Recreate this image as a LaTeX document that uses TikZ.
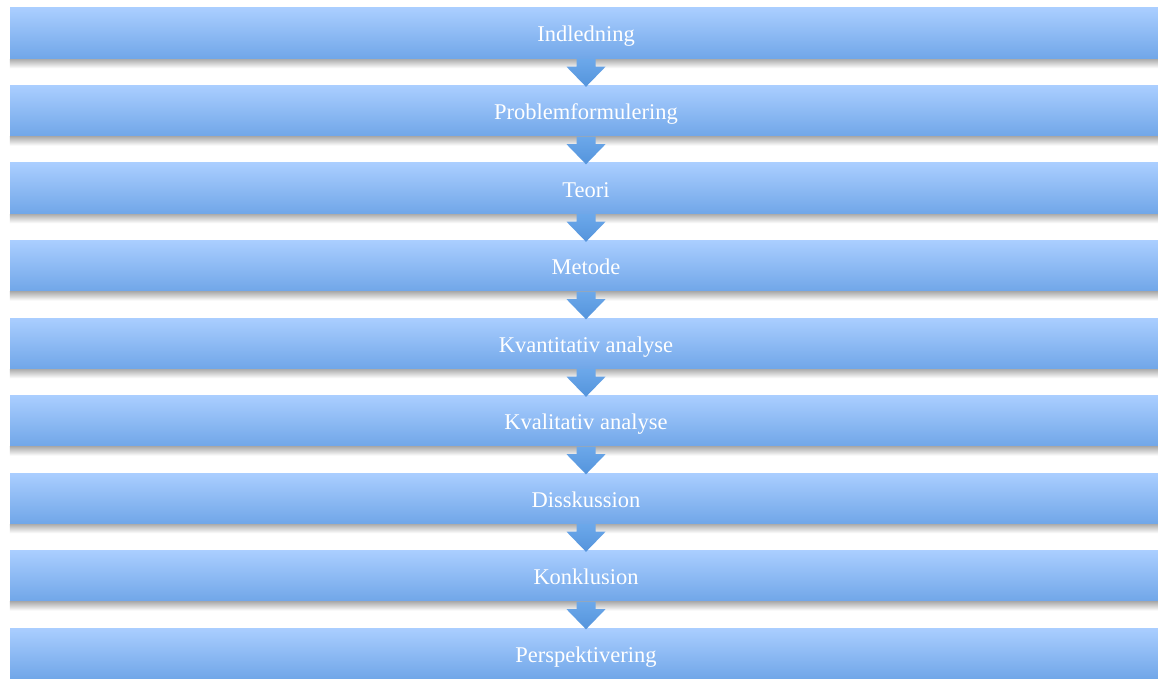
\documentclass[tikz,border=0pt]{standalone}
\usepackage{fontspec}
\setmainfont{Liberation Serif}
\usetikzlibrary{calc}
\definecolor{barTop}{RGB}{170,206,255}
\definecolor{barBot}{RGB}{112,166,232}
\definecolor{arrTop}{RGB}{108,168,234}
\definecolor{arrBot}{RGB}{84,148,220}
\tikzset{
  stage/.style={rectangle, minimum width=1152pt, minimum height=51pt, inner sep=0pt,
    text height=21pt, text depth=4pt,
    top color=barTop, bottom color=barBot, text=white, font=\fontsize{22.5}{24}\selectfont},
  stageshadow/.style={top color=black!32, bottom color=white},
  flowarrow/.style={top color=arrTop, bottom color=arrBot},
}
\begin{document}
\begin{tikzpicture}[x=1pt,y=-1pt]
  \clip (0,0) rectangle (1158,679);
  \fill[white] (0,0) rectangle (1158,679);
  % the stages
  \foreach \lbl [count=\i] in {Indledning,Problemformulering,Teori,Metode,Kvantitativ analyse,Kvalitativ analyse,Disskussion,Konklusion,Perspektivering}{
    \node[stage] (s\i) at (586,{33.5+(\i-1)*77.5}) {\lbl};
    \shade[stageshadow] (s\i.south west) rectangle ($(s\i.south east)+(0,9)$);
  }
  % arrows between the stages
  \foreach \i in {1,...,8}{
    \pgfmathtruncatemacro\j{\i+1}
    \shade[flowarrow] ($(s\i.south)+(-9.5,0)$) -- ($(s\i.south)+(9.5,0)$) -- ($(s\i.south)+(9.5,7.5)$)
      -- ($(s\i.south)+(19.5,7.5)$) -- ($(s\j.north)+(0,1.5)$) -- ($(s\i.south)+(-19.5,7.5)$)
      -- ($(s\i.south)+(-9.5,7.5)$) -- cycle;
  }
\end{tikzpicture}
\end{document}
